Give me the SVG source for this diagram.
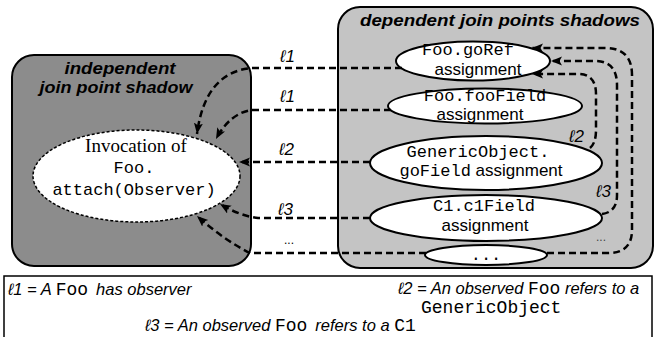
<svg xmlns="http://www.w3.org/2000/svg" width="656" height="337" viewBox="0 0 656 337">
<defs>
<marker id="ah" markerUnits="userSpaceOnUse" markerWidth="12" markerHeight="10" refX="11" refY="4.5" orient="auto">
<path d="M0,0 L11,4.5 L0,9 L2.5,4.5 z" fill="#000"/>
</marker>
</defs>
<style>
.box{stroke:#000;stroke-width:2}
.el{fill:#fff;stroke:#000;stroke-width:2}
.title{font-family:"Liberation Sans",Arial,sans-serif;font-weight:bold;font-style:italic;font-size:16px;fill:#000}
.mono{font-family:"Liberation Mono","Courier New",monospace;font-size:17px;fill:#000}
.sans{font-family:"Liberation Sans",Arial,sans-serif;font-size:17px;fill:#000}
.serif{font-family:"Liberation Serif","Times New Roman",serif;font-size:19px;fill:#000}
.lab{font-family:"Liberation Sans",Arial,sans-serif;font-style:italic;font-size:17px;fill:#000}
.leg{font-family:"Liberation Sans",Arial,sans-serif;font-style:italic;font-size:16.5px;fill:#000}
.legm{font-family:"Liberation Mono","Courier New",monospace;font-style:normal;font-size:18px;fill:#000}
.dash{fill:none;stroke:#000;stroke-width:2.5;stroke-dasharray:7 4}
</style>
<rect width="656" height="337" fill="#fff"/>
<g id="independent-shadow">
<rect class="box" x="12" y="55" width="239" height="211" rx="22" fill="#8c8c8c"/>
<text class="title" x="120" y="74" text-anchor="middle" textLength="111" lengthAdjust="spacingAndGlyphs">independent</text>
<text class="title" x="116" y="93" text-anchor="middle" textLength="153" lengthAdjust="spacingAndGlyphs">join point shadow</text>
</g>
<g id="dependent-shadows">
<rect class="box" x="338" y="7" width="315" height="261" rx="22" fill="#c4c4c4"/>
<text class="title" x="500" y="26" text-anchor="middle" textLength="280" lengthAdjust="spacingAndGlyphs">dependent join points shadows</text>
<text x="601" y="241" text-anchor="middle" font-family="Liberation Sans,Arial,sans-serif" font-size="12" fill="#444">...</text>
</g>
<g id="invocation">
<ellipse cx="136.5" cy="176" rx="103.5" ry="46" fill="#fff" stroke="#000" stroke-width="1.5" stroke-dasharray="3 2"/>
<text class="serif" x="136" y="152" text-anchor="middle">Invocation of</text>
<text class="mono" x="134" y="173" text-anchor="middle" font-size="18.5">Foo.</text>
<text class="mono" x="134" y="195" text-anchor="middle" font-size="18.5">attach(Observer)</text>
</g>
<g id="goRef">
<ellipse class="el" cx="473" cy="61" rx="77" ry="19.5"/>
<text class="mono" x="468" y="55" text-anchor="middle">Foo.goRef</text>
<text class="sans" x="478" y="74.5" text-anchor="middle">assignment</text>
</g>
<g id="fooField">
<ellipse class="el" cx="485" cy="106" rx="97" ry="17.5"/>
<text class="mono" x="485" y="101" text-anchor="middle">Foo.fooField</text>
<text class="sans" x="480" y="119.5" text-anchor="middle">assignment</text>
</g>
<g id="goField">
<ellipse class="el" cx="486" cy="163" rx="116" ry="27"/>
<text class="mono" x="478" y="157" text-anchor="middle">GenericObject.</text>
<text x="481" y="176" text-anchor="middle"><tspan class="mono">goField</tspan><tspan class="sans"> assignment</tspan></text>
</g>
<g id="c1Field">
<ellipse class="el" cx="486" cy="218" rx="116" ry="23"/>
<text class="mono" x="484" y="211" text-anchor="middle">C1.c1Field</text>
<text class="sans" x="485" y="231" text-anchor="middle">assignment</text>
</g>
<g id="more">
<ellipse class="el" cx="486" cy="255" rx="61" ry="10"/>
<text class="mono" x="486" y="260" text-anchor="middle">...</text>
</g>
<g id="connectors">
<path class="dash" d="M402,68 L252,68 Q205,72 197,134" marker-end="url(#ah)"/>
<path class="dash" d="M391,110 L252,110 Q230,113 216,139" marker-end="url(#ah)"/>
<path class="dash" d="M370,162 L239,162" marker-end="url(#ah)"/>
<path class="dash" d="M370,218 L258,218 Q240,216 220,204" marker-end="url(#ah)"/>
<path class="dash" d="M426,253 L250,253 Q224,240 197,216" marker-end="url(#ah)"/>
<path class="dash" d="M547,253 L608,253 Q632,253 632,230 L632,75 Q632,48 605,48 L532,48" marker-end="url(#ah)"/>
<path class="dash" d="M602,214 Q617,212 617,195 L617,85 Q617,61 595,61 L551,61" marker-end="url(#ah)"/>
<path class="dash" d="M590,148 Q596,143 596,130 L596,94 Q596,74 578,74 L532,74" marker-end="url(#ah)"/>
<text class="lab" x="280" y="62">ℓ1</text>
<text class="lab" x="280" y="102">ℓ1</text>
<text class="lab" x="279" y="155">ℓ2</text>
<text class="lab" x="278" y="215">ℓ3</text>
<text x="289" y="244" text-anchor="middle" font-family="Liberation Sans,Arial,sans-serif" font-size="12">...</text>
<text class="lab" x="569" y="142">ℓ2</text>
<text class="lab" x="596" y="197">ℓ3</text>
</g>
<g id="legend">
<rect x="4" y="276" width="648" height="70" fill="#fff" stroke="#000" stroke-width="1.5"/>
<text class="leg" x="8" y="295">ℓ1 = A <tspan class="legm">Foo</tspan><tspan dx="8">has observer</tspan></text>
<text class="leg" x="398" y="294">ℓ2 = An observed <tspan class="legm">Foo</tspan> refers to a</text>
<text class="legm" x="421" y="313" font-size="17.5">GenericObject</text>
<text class="leg" x="145" y="331">ℓ3 = An observed <tspan class="legm">Foo</tspan><tspan dx="8">refers to a </tspan><tspan class="legm">C1</tspan></text>
</g>
</svg>
